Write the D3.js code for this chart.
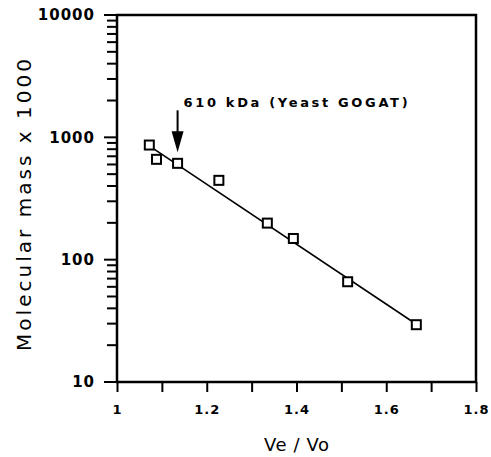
<html>
<style>
    body {
        margin: 0;
        background: #ffffff;
    }
    text {
        font-family: "DejaVu Sans", sans-serif;
        font-weight: bold;
        fill: #000000;
    }
</style>
<script src="https://d3js.org/d3.v7.min.js"></script>
<body>
<svg id="chart"></svg>
</body>
<script>
// Ve/Vo against molecular mass (x 1000)
let ve   = [1.072, 1.088, 1.135, 1.227, 1.335, 1.393, 1.514, 1.667]
let mass = [865, 661, 613, 445, 199, 149, 66, 29.4]
// ends of the drawn calibration line
let fitVe   = [1.066, 1.668]
let fitMass = [880, 29.5]
let xTicks = [1, 1.1, 1.2, 1.3, 1.4, 1.5, 1.6, 1.7, 1.8]
let xLabels = ["1", "", "1.2", "", "1.4", "", "1.6", "", "1.8"]
let yDecades = [10, 100, 1000, 10000]
let note = "610 kDa (Yeast GOGAT)"
let notePoint = 2   // index of the GOGAT point

let width = 491, height = 457
let margin = {left: 117, right: 15, top: 15, bottom: 75}
let svg = d3.select("#chart").attr("width", width).attr("height", height)

let x = d3.scaleLinear().domain([1, 1.8]).range([margin.left, width - margin.right])
let y = d3.scaleLog().domain([10, 10000]).range([height - margin.bottom, margin.top])

// all log ticks (1..9 x each decade) up to 10000
let yTicks = []
yDecades.slice(0, 3).forEach(d => {
  for (let k = 1; k < 10; k++) yTicks.push(d * k)
})
yTicks.push(10000)
let isMajor = v => yDecades.includes(v)

// left axis: labels from d3, tick marks drawn by hand
let yAxis = svg.append("g")
    .attr("transform", `translate(${margin.left},0)`)
    .call(d3.axisLeft(y).tickValues(yDecades).tickSize(0).tickPadding(22)
      .tickFormat(d => d))
yAxis.select(".domain").remove()
yAxis.selectAll(".tick text")
    .style("font-size", "15px").style("letter-spacing", "1px")

svg.selectAll("line.ytick")
    .data(yTicks).enter().append("line")
    .attr("class", "ytick")
    .attr("x1", d => x(1) - (isMajor(d) ? 13 : 10))
    .attr("x2", x(1))
    .attr("y1", d => y(d)).attr("y2", d => y(d))
    .attr("stroke", "#000").attr("stroke-width", 2)

let xAxis = svg.append("g")
    .attr("transform", `translate(0,${y(10)})`)
    .call(d3.axisBottom(x).tickValues(xTicks).tickSize(10).tickPadding(13)
      .tickFormat((d, i) => xLabels[i]))
xAxis.select(".domain").remove()
xAxis.selectAll(".tick line").attr("stroke", "#000").attr("stroke-width", 2)
xAxis.selectAll(".tick text")
    .style("font-size", "13px").style("letter-spacing", "1px")

// frame
svg.append("rect")
    .attr("x", x(1)).attr("y", y(10000))
    .attr("width", x(1.8) - x(1)).attr("height", y(10) - y(10000))
    .attr("fill", "none").attr("stroke", "#000").attr("stroke-width", 2.5)

// calibration line
let line = d3.line().x(d => x(d[0])).y(d => y(d[1]))
svg.append("path")
    .datum(fitVe.map((v, i) => [v, fitMass[i]]))
    .attr("d", line)
    .attr("fill", "none").attr("stroke", "#000").attr("stroke-width", 1.6)

// points
let s = 9
svg.selectAll("rect.pt")
    .data(ve.map((v, i) => [v, mass[i]]))
    .enter().append("rect")
    .attr("class", "pt")
    .attr("x", d => x(d[0]) - s / 2)
    .attr("y", d => y(d[1]) - s / 2)
    .attr("width", s).attr("height", s)
    .attr("fill", "#fff").attr("stroke", "#000").attr("stroke-width", 2)

// arrow to the GOGAT point
let ax = x(ve[notePoint]), tip = y(mass[notePoint]) - 11
svg.append("line")
    .attr("x1", ax).attr("x2", ax)
    .attr("y1", tip - 42).attr("y2", tip - 16)
    .attr("stroke", "#000").attr("stroke-width", 2)
svg.append("path")
    .attr("d", `M${ax - 6},${tip - 21} L${ax + 6},${tip - 21} L${ax},${tip} Z`)
    .attr("fill", "#000")

svg.append("text")
    .attr("x", ax + 6).attr("y", tip - 45)
    .attr("textLength", 224).attr("lengthAdjust", "spacing")
    .style("font-size", "13px")
    .text(note)

// axis titles
svg.append("text")
    .attr("x", (x(1) + x(1.8)) / 2).attr("y", 451)
    .attr("text-anchor", "middle")
    .style("font-size", "18px").style("font-weight", "normal")
    .attr("textLength", 65).attr("lengthAdjust", "spacing")
    .text("Ve / Vo")

svg.append("text")
    .attr("transform", "translate(31,205) rotate(-90)")
    .attr("text-anchor", "middle")
    .style("font-size", "20px").style("font-weight", "normal")
    .attr("textLength", 292).attr("lengthAdjust", "spacing")
    .text("Molecular mass x 1000")
</script>
</html>
